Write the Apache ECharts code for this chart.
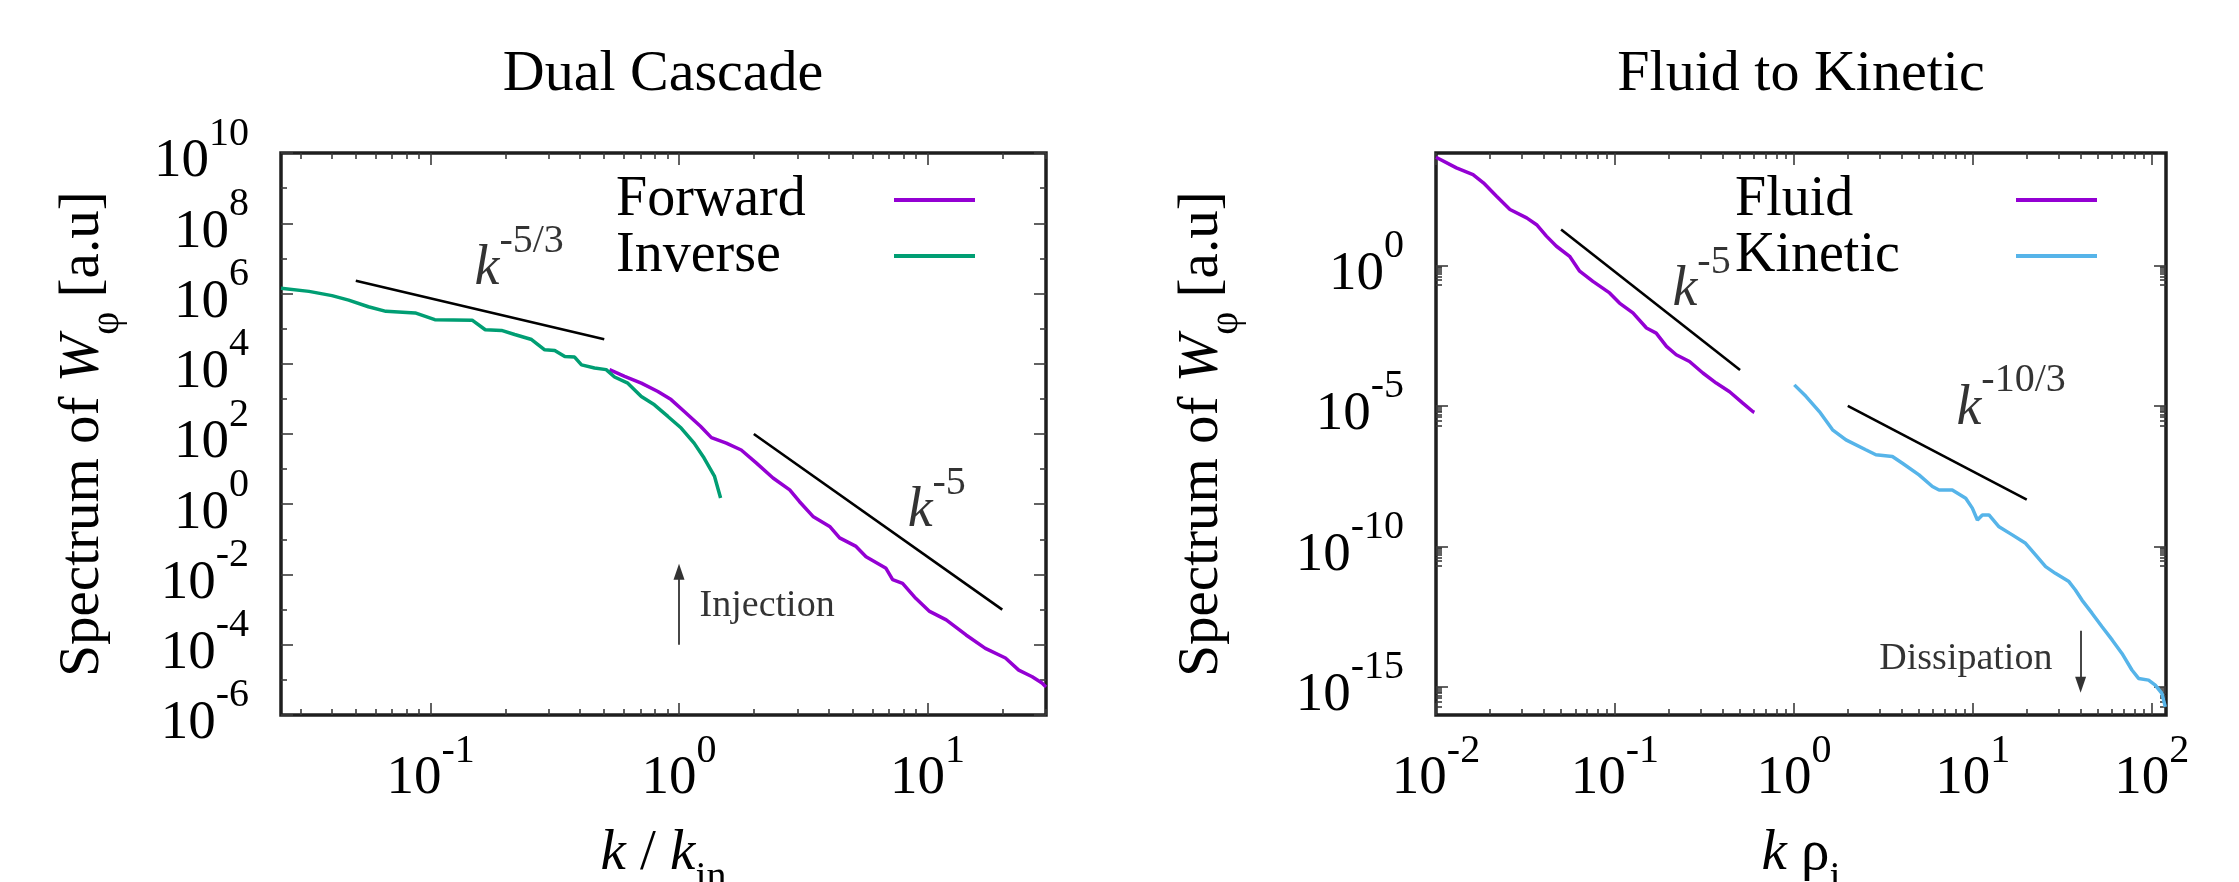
<!DOCTYPE html>
<html>
<head>
<meta charset="utf-8">
<script src="https://cdn.jsdelivr.net/npm/echarts@6.0.0/dist/echarts.min.js"></script>
<style>
html, body { margin: 0; padding: 0; background: #ffffff; }
#chart { width: 2239px; height: 882px; }
</style>
</head>
<body>
<div id="chart"></div>
<script>
// ---------------- data ----------------
const panelTitles = ['Dual Cascade', 'Fluid to Kinetic'];

// Left panel: Dual Cascade (k / k_in  vs  spectrum)
const forwardK = [0.525, 0.604, 0.705, 0.822, 0.929, 1.05, 1.22, 1.35, 1.55, 1.78, 2.05, 2.39, 2.79, 3.05, 3.46, 4.04, 4.43, 5.16, 5.66, 6.81, 7.24, 7.94, 8.97, 10.2, 11.9, 14.3, 17.1, 20.6, 23.3, 26.4, 28.9, 30];
const forwardW = [6.8e3, 4.4e3, 2.8e3, 1.62e3, 955, 437, 166, 79, 55, 35, 14.8, 5.6, 2.57, 1.2, 0.45, 0.234, 0.11, 0.063, 0.032, 0.015, 7.1e-3, 5.6e-3, 2.1e-3, 8.9e-4, 5.1e-4, 1.9e-4, 7.9e-5, 4.2e-5, 1.9e-5, 1.23e-5, 8.1e-6, 6.3e-6];
const inverseK = [0.025, 0.0324, 0.0401, 0.0468, 0.0562, 0.0661, 0.0867, 0.104, 0.147, 0.166, 0.193, 0.218, 0.255, 0.288, 0.316, 0.347, 0.380, 0.405, 0.457, 0.509, 0.550, 0.622, 0.705, 0.796, 0.902, 1.02, 1.15, 1.26, 1.39, 1.47];
const inverseW = [1.41e6, 1.15e6, 8.7e5, 6.5e5, 4.2e5, 3.1e5, 2.8e5, 1.8e5, 1.74e5, 9.3e4, 8.9e4, 6.8e4, 4.9e4, 2.5e4, 2.4e4, 1.6e4, 1.55e4, 9.3e3, 7.6e3, 6.8e3, 4.2e3, 2.8e3, 1.17e3, 676, 316, 148, 55, 21, 6.2, 1.5];
// reference power laws (left)
const slopeA_K = [0.05, 0.5];  const slopeA_W = [2.3e6, 4.95e4];   // k^-5/3
const slopeB_K = [2, 20];      const slopeB_W = [1e2, 1e-3];       // k^-5

// Right panel: Fluid to Kinetic (k rho_i  vs  spectrum)
const fluidK = [0.01, 0.0130, 0.0161, 0.0184, 0.0218, 0.0259, 0.0321, 0.0365, 0.0414, 0.0471, 0.0558, 0.0635, 0.0753, 0.0933, 0.106, 0.126, 0.150, 0.170, 0.194, 0.220, 0.261, 0.310, 0.368, 0.437, 0.518, 0.589, 0.601];
const fluidW = [7.1e3, 2.95e3, 1.70e3, 871, 288, 98, 49, 28, 11, 4.8, 2.1, 0.62, 0.27, 0.105, 0.0457, 0.0204, 5.9e-3, 3.9e-3, 1.32e-3, 6.6e-4, 3.8e-4, 1.48e-4, 6.5e-5, 3.2e-5, 1.26e-5, 6.3e-6, 5.9e-6];
const kineticK = [1.005, 1.167, 1.387, 1.644, 1.954, 2.52, 2.87, 3.55, 4.04, 5.0, 5.94, 6.47, 7.67, 9.12, 9.93, 10.6, 11.3, 12.3, 14.0, 16.6, 19.7, 22.4, 25.5, 28.9, 34.4, 37.4, 40.7, 46.3, 52.7, 60.0, 68.1, 77.4, 84.3, 95.9, 104.5, 113.8, 118.9];
const kineticW = [5.6e-5, 2.19e-5, 6.3e-6, 1.41e-6, 6.2e-7, 2.75e-7, 1.82e-7, 1.58e-7, 9.1e-8, 3.5e-8, 1.35e-8, 1.02e-8, 1.02e-8, 5.2e-9, 2.3e-9, 8.7e-10, 1.32e-9, 1.32e-9, 5.0e-10, 2.57e-10, 1.29e-10, 5.0e-11, 1.9e-11, 1.1e-11, 5.6e-12, 2.8e-12, 1.23e-12, 4.2e-13, 1.38e-13, 4.7e-14, 1.55e-14, 4.0e-15, 2.0e-15, 1.74e-15, 1.15e-15, 5.9e-16, 1.95e-16];
// reference power laws (right)
const slopeC_K = [0.05, 0.5];  const slopeC_W = [19, 1.9e-4];       // k^-5
const slopeD_K = [2, 20];      const slopeD_W = [1e-5, 4.64e-9];     // k^-10/3

// axis ranges and tick labels
const leftXRange = [0.025, 30];
const leftYRange = [0.99999e-6, 1.00001e10];
const rightXRange = [0.0099999, 120];
const rightYRange = [1e-16, 1e4];
const leftXTicks = [0.1, 1, 10];
const leftYTicks = [1e-6, 1e-4, 1e-2, 1, 1e2, 1e4, 1e6, 1e8, 1e10];
const leftYMinorTicks = [1e-5, 1e-3, 1e-1, 1e1, 1e3, 1e5, 1e7, 1e9];
const rightXTicks = [0.01, 0.1, 1, 10, 100];
const rightYTicks = [1e-15, 1e-10, 1e-5, 1];

// annotation texts and their anchor points (data space)
const noteTexts = ['k|-5/3', 'k|-5', 'Injection', 'k|-5', 'k|-10/3', 'Dissipation'];
const noteK = [0.151, 8.36, 1.216, 0.211, 8.15, 3.02];
const noteW = [8.3e6, 1.12, 1.19e-3, 0.252, 1.56e-5, 9.8e-15];
const notePanel = [0, 0, 0, 1, 1, 1];
// arrows (Injection, Dissipation)
const arrowK = [1, 40];
const arrowFrom = [1e-4, 1e-13];
const arrowTo = [1.2e-2, 1.2e-15];

// ---------------- helpers ----------------
const FONT = 'Liberation Serif';
const zip = (a, b) => a.map((v, i) => [v, b[i]]);
function minorDecades(lo, hi) {
  const out = [];
  for (let e = lo; e <= hi; e++) for (let m = 2; m <= 9; m++) out.push(+(m * Math.pow(10, e)).toPrecision(3));
  return out;
}
const leftXMinor = minorDecades(-2, 1).filter(v => v >= leftXRange[0] && v <= leftXRange[1]);
const rightXMinor = minorDecades(-2, 1).filter(v => v >= rightXRange[0] && v <= rightXRange[1]);
const rightYMinor = [-16, -11, -6, -1].flatMap(e => [2,3,4,5,6,7,8,9].map(m => +(m * Math.pow(10, e)).toPrecision(3)));
// left y labels are split over two stacked axes so that neighbouring labels never collide
const leftYLabelsA = leftYTicks.filter((v, i) => i % 2 === 0);
const leftYLabelsB = leftYTicks.filter((v, i) => i % 2 === 1);

function powLabel(v) {
  const e = Math.round(Math.log10(v));
  return '{b|10}{s|' + e + '}';
}
const powRich = {
  b: { fontFamily: FONT, fontSize: 55, height: 50, lineHeight: 68, verticalAlign: 'bottom', color: '#000' },
  s: { fontFamily: FONT, fontSize: 40, height: 30, verticalAlign: 'top', color: '#000' }
};
const TICK_COLOR = '#3a3a3a';
const nameRich = {
  m: { fontFamily: FONT, fontSize: 57, lineHeight: 57, verticalAlign: 'top', color: '#000' },
  i: { fontFamily: FONT, fontSize: 57, lineHeight: 57, fontStyle: 'italic', verticalAlign: 'top', color: '#000' },
  s: { fontFamily: FONT, fontSize: 40, padding: [32, 0, 0, 0], verticalAlign: 'top', color: '#000' }
};

function makeAxis(dim, grid, position, range, ticks, len, labelVals, name, nameGap) {
  const ax = {
    type: 'log', logBase: 10, gridIndex: grid, position: position,
    min: range[0], max: range[1],
    axisLine: { show: false, onZero: false },
    splitLine: { show: false },
    minorTick: { show: false },
    axisTick: { show: true, inside: true, length: len, customValues: ticks,
      lineStyle: { color: TICK_COLOR, width: 1.6 } },
    axisLabel: { show: false },
    silent: true
  };
  if (labelVals) {
    ax.axisLabel = {
      show: true, customValues: labelVals, formatter: powLabel, rich: powRich,
      fontFamily: FONT, fontSize: 55, showMinLabel: true, showMaxLabel: true, hideOverlap: false,
      margin: dim === 'x' ? 21 : 32, color: '#000'
    };
  }
  if (name) {
    ax.name = name;
    ax.nameLocation = 'middle';
    ax.nameGap = nameGap;
    ax.nameMoveOverlap = false;
    ax.nameTextStyle = { color: '#000', fontFamily: FONT, fontSize: 57, rich: nameRich };
  }
  return ax;
}

const xAxes = [
  makeAxis('x', 0, 'bottom', leftXRange, leftXTicks, 12, leftXTicks, '{i|k}{m| / }{i|k}{s|in}', 111),
  makeAxis('x', 0, 'bottom', leftXRange, leftXMinor, 6, null),
  makeAxis('x', 0, 'top', leftXRange, leftXTicks, 12, null),
  makeAxis('x', 0, 'top', leftXRange, leftXMinor, 6, null),
  makeAxis('x', 1, 'bottom', rightXRange, rightXTicks, 12, rightXTicks, '{i|k}{m| ρ}{s|i}', 111),
  makeAxis('x', 1, 'bottom', rightXRange, rightXMinor, 6, null),
  makeAxis('x', 1, 'top', rightXRange, rightXTicks, 12, null),
  makeAxis('x', 1, 'top', rightXRange, rightXMinor, 6, null)
];
const yName = '{m|Spectrum of }{i|W}{s|φ}{m| [a.u]}';
const yAxes = [
  makeAxis('y', 0, 'left', leftYRange, leftYTicks, 12, leftYLabelsA, yName, 154),
  makeAxis('y', 0, 'left', leftYRange, leftYMinorTicks, 6, leftYLabelsB),
  makeAxis('y', 0, 'right', leftYRange, leftYTicks, 12, null),
  makeAxis('y', 0, 'right', leftYRange, leftYMinorTicks, 6, null),
  makeAxis('y', 1, 'left', rightYRange, rightYTicks, 12, rightYTicks, yName, 190),
  makeAxis('y', 1, 'left', rightYRange, rightYMinor, 6, null),
  makeAxis('y', 1, 'right', rightYRange, rightYTicks, 12, null),
  makeAxis('y', 1, 'right', rightYRange, rightYMinor, 6, null)
];

const PURPLE = '#9400D3', GREEN = '#009E73', BLUE = '#56B4E9';
function dataLine(name, k, w, color, panel) {
  return {
    type: 'line', name: name, xAxisIndex: panel * 4, yAxisIndex: panel * 4,
    data: zip(k, w), color: color, showSymbol: false, symbol: 'none',
    lineStyle: { color: color, width: 3.5 }, silent: true, animation: false,
    emphasis: { disabled: true }
  };
}
function refLine(k, w, panel) {
  return {
    type: 'line', xAxisIndex: panel * 4, yAxisIndex: panel * 4,
    data: zip(k, w), showSymbol: false, symbol: 'none',
    lineStyle: { color: '#000', width: 2.6 }, silent: true, animation: false,
    emphasis: { disabled: true }
  };
}
const noteRich = {
  k: { fontFamily: FONT, fontSize: 56, height: 50, lineHeight: 68, fontStyle: 'italic', verticalAlign: 'bottom', color: '#000' },
  s: { fontFamily: FONT, fontSize: 40, height: 30, verticalAlign: 'top', color: '#000' },
  t: { fontFamily: FONT, fontSize: 38, lineHeight: 38, color: '#000' }
};
function noteSeries(panel) {
  const idx = noteTexts.map((t, i) => i).filter(i => notePanel[i] === panel);
  return {
    type: 'scatter', xAxisIndex: panel * 4, yAxisIndex: panel * 4,
    symbolSize: 1, itemStyle: { color: 'rgba(0,0,0,0)' }, silent: true, animation: false,
    emphasis: { disabled: true },
    data: idx.map(i => [noteK[i], noteW[i]]),
    label: {
      show: true, position: [0, 0], align: 'left', verticalAlign: 'middle',
      fontFamily: FONT,
      formatter: p => {
        const t = noteTexts[idx[p.dataIndex]];
        if (t.indexOf('|') >= 0) { const parts = t.split('|'); return '{k|' + parts[0] + '}{s|' + parts[1] + '}'; }
        return '{t|' + t + '}';
      },
      rich: noteRich
    },
    markLine: {
      silent: true, animation: false, symbol: ['none', 'triangle'], symbolSize: [11, 16],
      label: { show: false },
      lineStyle: { color: '#333', width: 1.8, type: 'solid' },
      emphasis: { disabled: true },
      data: [[{ coord: [arrowK[panel], arrowFrom[panel]] }, { coord: [arrowK[panel], arrowTo[panel]] }]]
    }
  };
}

const legendText = (width) => ({
  fontFamily: FONT, fontSize: 56, color: '#000',
  rich: { n: { width: width, align: 'left', fontFamily: FONT, fontSize: 56, lineHeight: 56, color: '#000' } }
});

const option = {
  animation: false,
  backgroundColor: '#ffffff',
  textStyle: { fontFamily: FONT, color: '#000' },
  title: [
    { text: panelTitles[0], left: 663, top: 46, textAlign: 'center', padding: 0,
      textStyle: { fontFamily: FONT, fontSize: 58, lineHeight: 58, fontWeight: 'normal', color: '#000' } },
    { text: panelTitles[1], left: 1801, top: 46, textAlign: 'center', padding: 0,
      textStyle: { fontFamily: FONT, fontSize: 58, lineHeight: 58, fontWeight: 'normal', color: '#000' } }
  ],
  legend: [
    { data: ['Forward', 'Inverse'], orient: 'vertical', align: 'right', left: 616, top: 172, padding: 0,
      itemGap: 0, itemWidth: 81, itemHeight: 4, icon: 'rect', selectedMode: false,
      formatter: n => '{n|' + n + '}', textStyle: legendText(273) },
    { data: ['Fluid', 'Kinetic'], orient: 'vertical', align: 'right', left: 1735, top: 172, padding: 0,
      itemGap: 0, itemWidth: 81, itemHeight: 4, icon: 'rect', selectedMode: false,
      formatter: n => '{n|' + n + '}', textStyle: legendText(276) }
  ],
  grid: [
    { left: 281, top: 153, width: 765, height: 562, show: true, borderWidth: 3.5, borderColor: '#1e1e1e',
      backgroundColor: 'transparent', containLabel: false, outerBoundsMode: 'none' },
    { left: 1436, top: 153, width: 730, height: 562, show: true, borderWidth: 3.5, borderColor: '#1e1e1e',
      backgroundColor: 'transparent', containLabel: false, outerBoundsMode: 'none' }
  ],
  xAxis: xAxes,
  yAxis: yAxes,
  series: [
    dataLine('Forward', forwardK, forwardW, PURPLE, 0),
    dataLine('Inverse', inverseK, inverseW, GREEN, 0),
    refLine(slopeA_K, slopeA_W, 0),
    refLine(slopeB_K, slopeB_W, 0),
    noteSeries(0),
    dataLine('Fluid', fluidK, fluidW, PURPLE, 1),
    dataLine('Kinetic', kineticK, kineticW, BLUE, 1),
    refLine(slopeC_K, slopeC_W, 1),
    refLine(slopeD_K, slopeD_W, 1),
    noteSeries(1)
  ]
};

const chart = echarts.init(document.getElementById('chart'), null, { renderer: 'canvas' });
chart.setOption(option);
</script>
</body>
</html>
